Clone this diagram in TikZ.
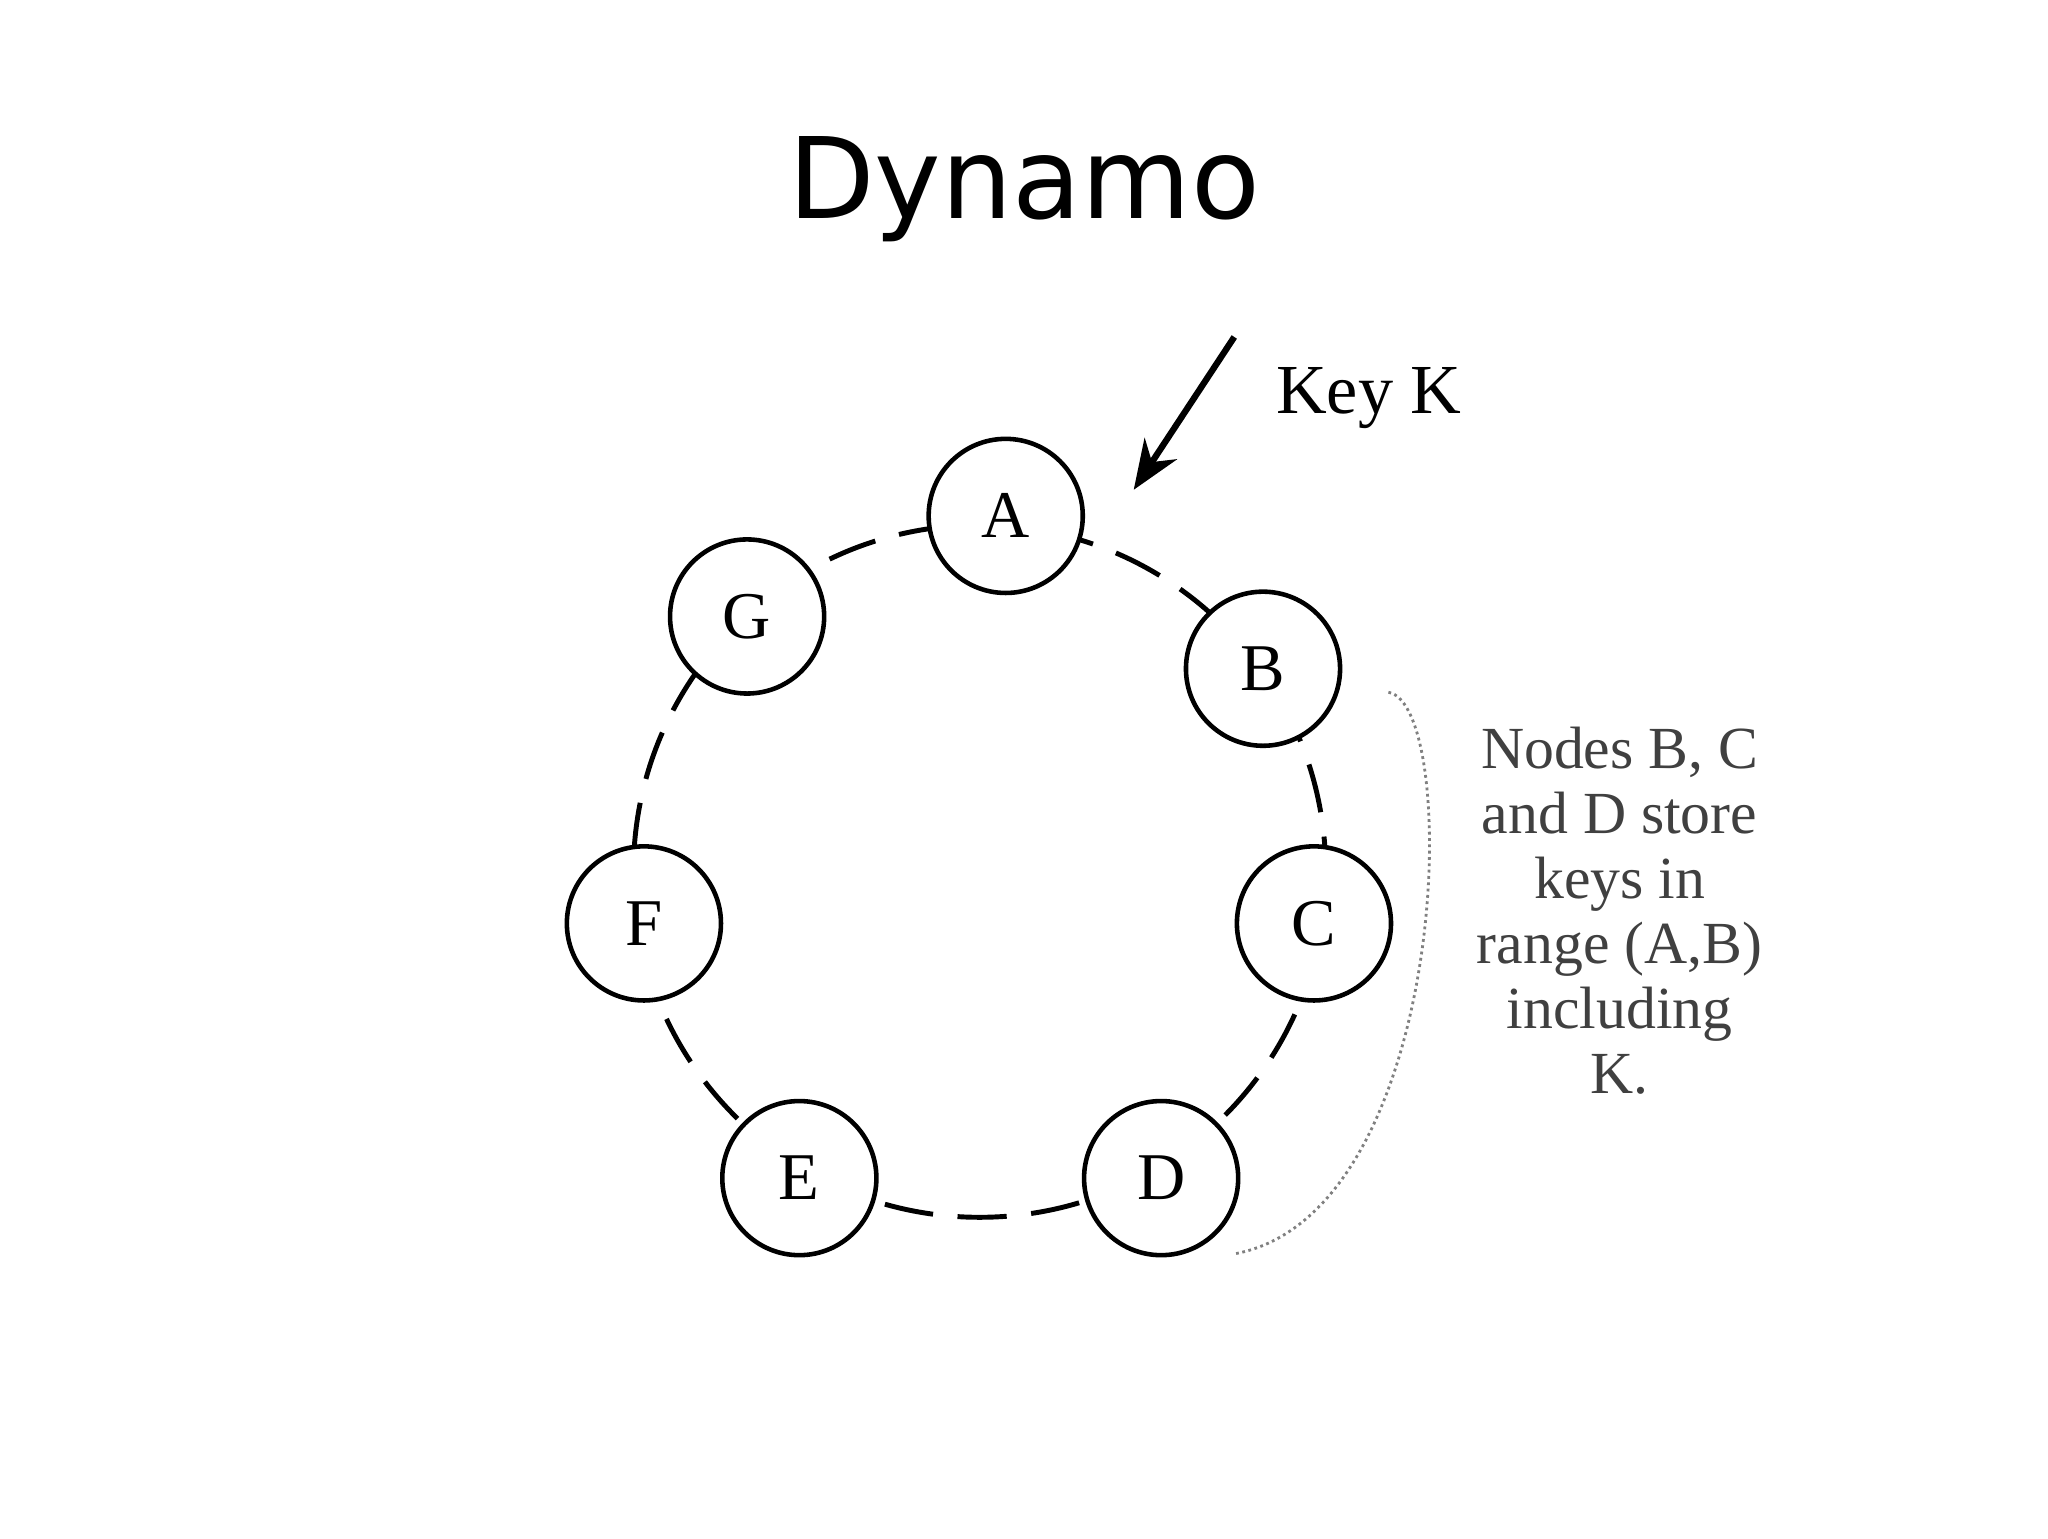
\documentclass[tikz,border=0pt]{standalone}
\usepackage{fontspec}
\setmainfont{Liberation Serif}
\newfontfamily\titlefont{DejaVu Sans}
\usetikzlibrary{arrows.meta}
\begin{document}
\begin{tikzpicture}[x=0.01306cm,y=-0.01306cm,
  ringnode/.style={circle,draw,line width=1.3pt,fill=white,minimum size=118*0.01306cm,inner sep=0pt,font=\fontsize{19}{22}\selectfont}]
\useasboundingbox (0,0) rectangle (1568,1178);
\node[font=\titlefont\fontsize{32}{38}\selectfont] (title) at (784,145) {Dynamo};
\draw[dashed,line width=1.4pt,dash pattern=on 14pt off 7pt] (750,667) circle[radius=265];
\node[ringnode] (A) at (770,395) {A};
\node[ringnode] (B) at (967,512) {B};
\node[ringnode] (C) at (1006,707) {C};
\node[ringnode] (D) at (889,902) {D};
\node[ringnode] (E) at (612,902) {E};
\node[ringnode] (F) at (493,707) {F};
\node[ringnode] (G) at (572,472) {G};
\node[font=\fontsize{20}{24}\selectfont] (key) at (1048,305) {Key K};
\coordinate (ks) at (945,258);
\coordinate (ke) at (868,375);
\draw[line width=1.8pt,-{Stealth[length=14pt,width=11pt]}] (ks) -- (ke);
\node[align=center,text=black!75,font=\fontsize{17}{18.5}\selectfont] (note) at (1240,697) {Nodes B, C\\and D store\\keys in\\range (A,B)\\including\\K.};
\coordinate (c1) at (1063,530);
\coordinate (c2) at (945,960);
\draw[densely dotted,gray,line width=0.8pt] (c1) .. controls (1120,540) and (1110,930) .. (c2);
\end{tikzpicture}
\end{document}
